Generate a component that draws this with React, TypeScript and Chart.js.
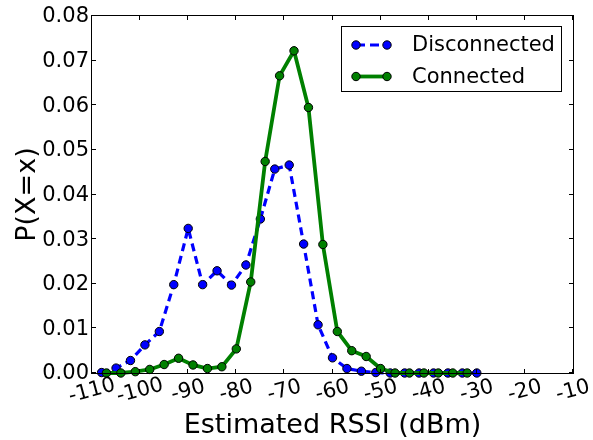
import { useEffect, useRef } from "react";
import { Chart, registerables } from "chart.js";

Chart.register(...registerables);

// RSSI bin centres (dBm) and the probability mass of each bin
const disconnectedRssi = [
  -108, -105, -102, -99, -96, -93, -90, -87, -84, -81, -78, -75, -72, -69,
  -66, -63, -60, -57, -54, -51, -48, -45, -42, -39, -36, -33, -30,
];
const disconnectedProb = [
  0.0001, 0.0011, 0.0028, 0.0063, 0.0093, 0.0198, 0.0324, 0.0198, 0.0229,
  0.0197, 0.0242, 0.0345, 0.0457, 0.0466, 0.0289, 0.0108, 0.0034, 0.001,
  0.0004, 0.0001, 0, 0, 0, 0, 0, 0, 0,
];

const connectedRssi = [
  -107, -104, -101, -98, -95, -92, -89, -86, -83, -80, -77, -74, -71, -68,
  -65, -62, -59, -56, -53, -50, -47, -44, -41, -38, -35, -32,
];
const connectedProb = [
  0, 0, 0.0003, 0.0008, 0.0019, 0.0033, 0.0018, 0.001, 0.0014, 0.0054,
  0.0204, 0.0474, 0.0666, 0.0722, 0.0595, 0.0288, 0.0093, 0.005, 0.0037,
  0.001, 0, 0, 0, 0, 0, 0,
];

const xTicks = [-110, -100, -90, -80, -70, -60, -50, -40, -30, -20, -10];
const yTicks = [0, 0.01, 0.02, 0.03, 0.04, 0.05, 0.06, 0.07, 0.08];

const seriesNames = ["Disconnected", "Connected"];
const xTitle = "Estimated RSSI (dBm)";
const yTitle = "P(X=x)";

const FONT = '"DejaVu Sans", "Liberation Sans", sans-serif';
const BLUE = "#0000ff";
const GREEN = "#008000";

const toPoints = (xs: number[], ys: number[]) =>
  xs.map((x, i) => ({ x, y: ys[i] }));

function drawMarker(ctx: CanvasRenderingContext2D, x: number, y: number, fill: string) {
  ctx.beginPath();
  ctx.arc(x, y, 4.2, 0, Math.PI * 2);
  ctx.fillStyle = fill;
  ctx.fill();
  ctx.lineWidth = 1;
  ctx.strokeStyle = "#000";
  ctx.stroke();
}

// Box frame with inward ticks on all four sides (drawn over the data lines)
const framePlugin = {
  id: "frame",
  afterDatasetsDraw(chart: any) {
    const { ctx, chartArea: a, scales } = chart;
    const xs = scales.x;
    const ys = scales.y;
    ctx.save();
    ctx.strokeStyle = "#000";
    ctx.lineWidth = 1;
    ctx.strokeRect(a.left - 0.5, a.top - 0.5, a.right - a.left + 1, a.bottom - a.top + 1);
    const len = 4;
    ctx.beginPath();
    for (const v of xTicks) {
      const px = Math.round(xs.getPixelForValue(v)) - 0.5;
      ctx.moveTo(px, a.bottom);
      ctx.lineTo(px, a.bottom - len);
      ctx.moveTo(px, a.top);
      ctx.lineTo(px, a.top + len);
    }
    for (const v of yTicks) {
      const py = Math.round(ys.getPixelForValue(v)) - 0.5;
      ctx.moveTo(a.left, py);
      ctx.lineTo(a.left + len, py);
      ctx.moveTo(a.right, py);
      ctx.lineTo(a.right - len, py);
    }
    ctx.stroke();
    ctx.restore();
  },
  afterDraw(chart: any) {
    const { ctx, chartArea: a, scales } = chart;
    const xs = scales.x;
    const ys = scales.y;
    ctx.save();
    ctx.fillStyle = "#000";

    // y tick labels
    ctx.font = `21px ${FONT}`;
    ctx.textAlign = "right";
    ctx.textBaseline = "middle";
    for (const v of yTicks) {
      ctx.fillText(v.toFixed(2), a.left - 3, ys.getPixelForValue(v) + 1);
    }

    // x tick labels, slightly rotated
    const ang = (-15 * Math.PI) / 180;
    ctx.textAlign = "center";
    for (const v of xTicks) {
      ctx.save();
      ctx.translate(xs.getPixelForValue(v), a.bottom + 18);
      ctx.rotate(ang);
      ctx.fillText(String(v), 0, 0);
      ctx.restore();
    }

    // axis titles
    ctx.font = `27px ${FONT}`;
    ctx.textAlign = "center";
    ctx.textBaseline = "alphabetic";
    ctx.fillText(xTitle, (a.left + a.right) / 2, 433);
    ctx.save();
    ctx.translate(35, (a.top + a.bottom) / 2);
    ctx.rotate(-Math.PI / 2);
    ctx.fillText(yTitle, 0, 0);
    ctx.restore();

    // legend
    const bx = 341.5, by = 26.5, bw = 220, bh = 65;
    ctx.fillStyle = "#fff";
    ctx.fillRect(bx, by, bw, bh);
    ctx.strokeStyle = "#000";
    ctx.lineWidth = 1;
    ctx.strokeRect(bx, by, bw, bh);
    const rows = [
      { y: 45, color: BLUE, dash: [9, 5], width: 3.2 },
      { y: 76.5, color: GREEN, dash: [], width: 3.8 },
    ];
    rows.forEach((r, i) => {
      ctx.save();
      ctx.strokeStyle = r.color;
      ctx.lineWidth = r.width;
      ctx.setLineDash(r.dash);
      ctx.beginPath();
      ctx.moveTo(356, r.y);
      ctx.lineTo(387, r.y);
      ctx.stroke();
      ctx.restore();
      drawMarker(ctx, 356, r.y, r.color);
      drawMarker(ctx, 387, r.y, r.color);
      ctx.fillStyle = "#000";
      ctx.font = `21px ${FONT}`;
      ctx.textAlign = "left";
      ctx.textBaseline = "middle";
      ctx.fillText(seriesNames[i], 412, r.y + 1);
    });
    ctx.restore();
  },
};

export default function App() {
  const canvasRef = useRef<HTMLCanvasElement | null>(null);

  useEffect(() => {
    const canvas = canvasRef.current;
    if (!canvas) return;
    const chart = new Chart(canvas, {
      type: "line",
      data: {
        datasets: [
          {
            label: seriesNames[1],
            data: toPoints(connectedRssi, connectedProb),
            borderColor: GREEN,
            backgroundColor: GREEN,
            borderWidth: 3.8,
            pointRadius: 4.2,
            pointBackgroundColor: GREEN,
            pointBorderColor: "#000",
            pointBorderWidth: 1,
            tension: 0,
            clip: false as any,
          },
          {
            label: seriesNames[0],
            data: toPoints(disconnectedRssi, disconnectedProb),
            borderColor: BLUE,
            backgroundColor: BLUE,
            borderWidth: 3.2,
            borderDash: [8, 5],
            pointRadius: 4.2,
            pointBackgroundColor: BLUE,
            pointBorderColor: "#000",
            pointBorderWidth: 1,
            tension: 0,
            clip: false as any,
          },
        ],
      },
      options: {
        animation: false,
        responsive: false,
        devicePixelRatio: 1,
        events: [],
        layout: { padding: { top: 16, right: 20, left: 0, bottom: 0 } },
        plugins: {
          legend: { display: false },
          tooltip: { enabled: false },
          title: { display: false },
        },
        scales: {
          x: {
            type: "linear",
            min: -110,
            max: -10,
            grid: { display: false },
            border: { display: false },
            ticks: { display: false, stepSize: 10 },
            afterFit: (s: any) => {
              s.height = 67;
            },
          },
          y: {
            type: "linear",
            min: 0,
            max: 0.08,
            grid: { display: false },
            border: { display: false },
            ticks: { display: false, stepSize: 0.01 },
            afterFit: (s: any) => {
              s.width = 92;
            },
          },
        },
      },
      plugins: [framePlugin],
    });
    return () => chart.destroy();
  }, []);

  return (
    <canvas
      ref={canvasRef}
      width={593}
      height={440}
      style={{ position: "absolute", left: 0, top: 0, display: "block" }}
    />
  );
}
